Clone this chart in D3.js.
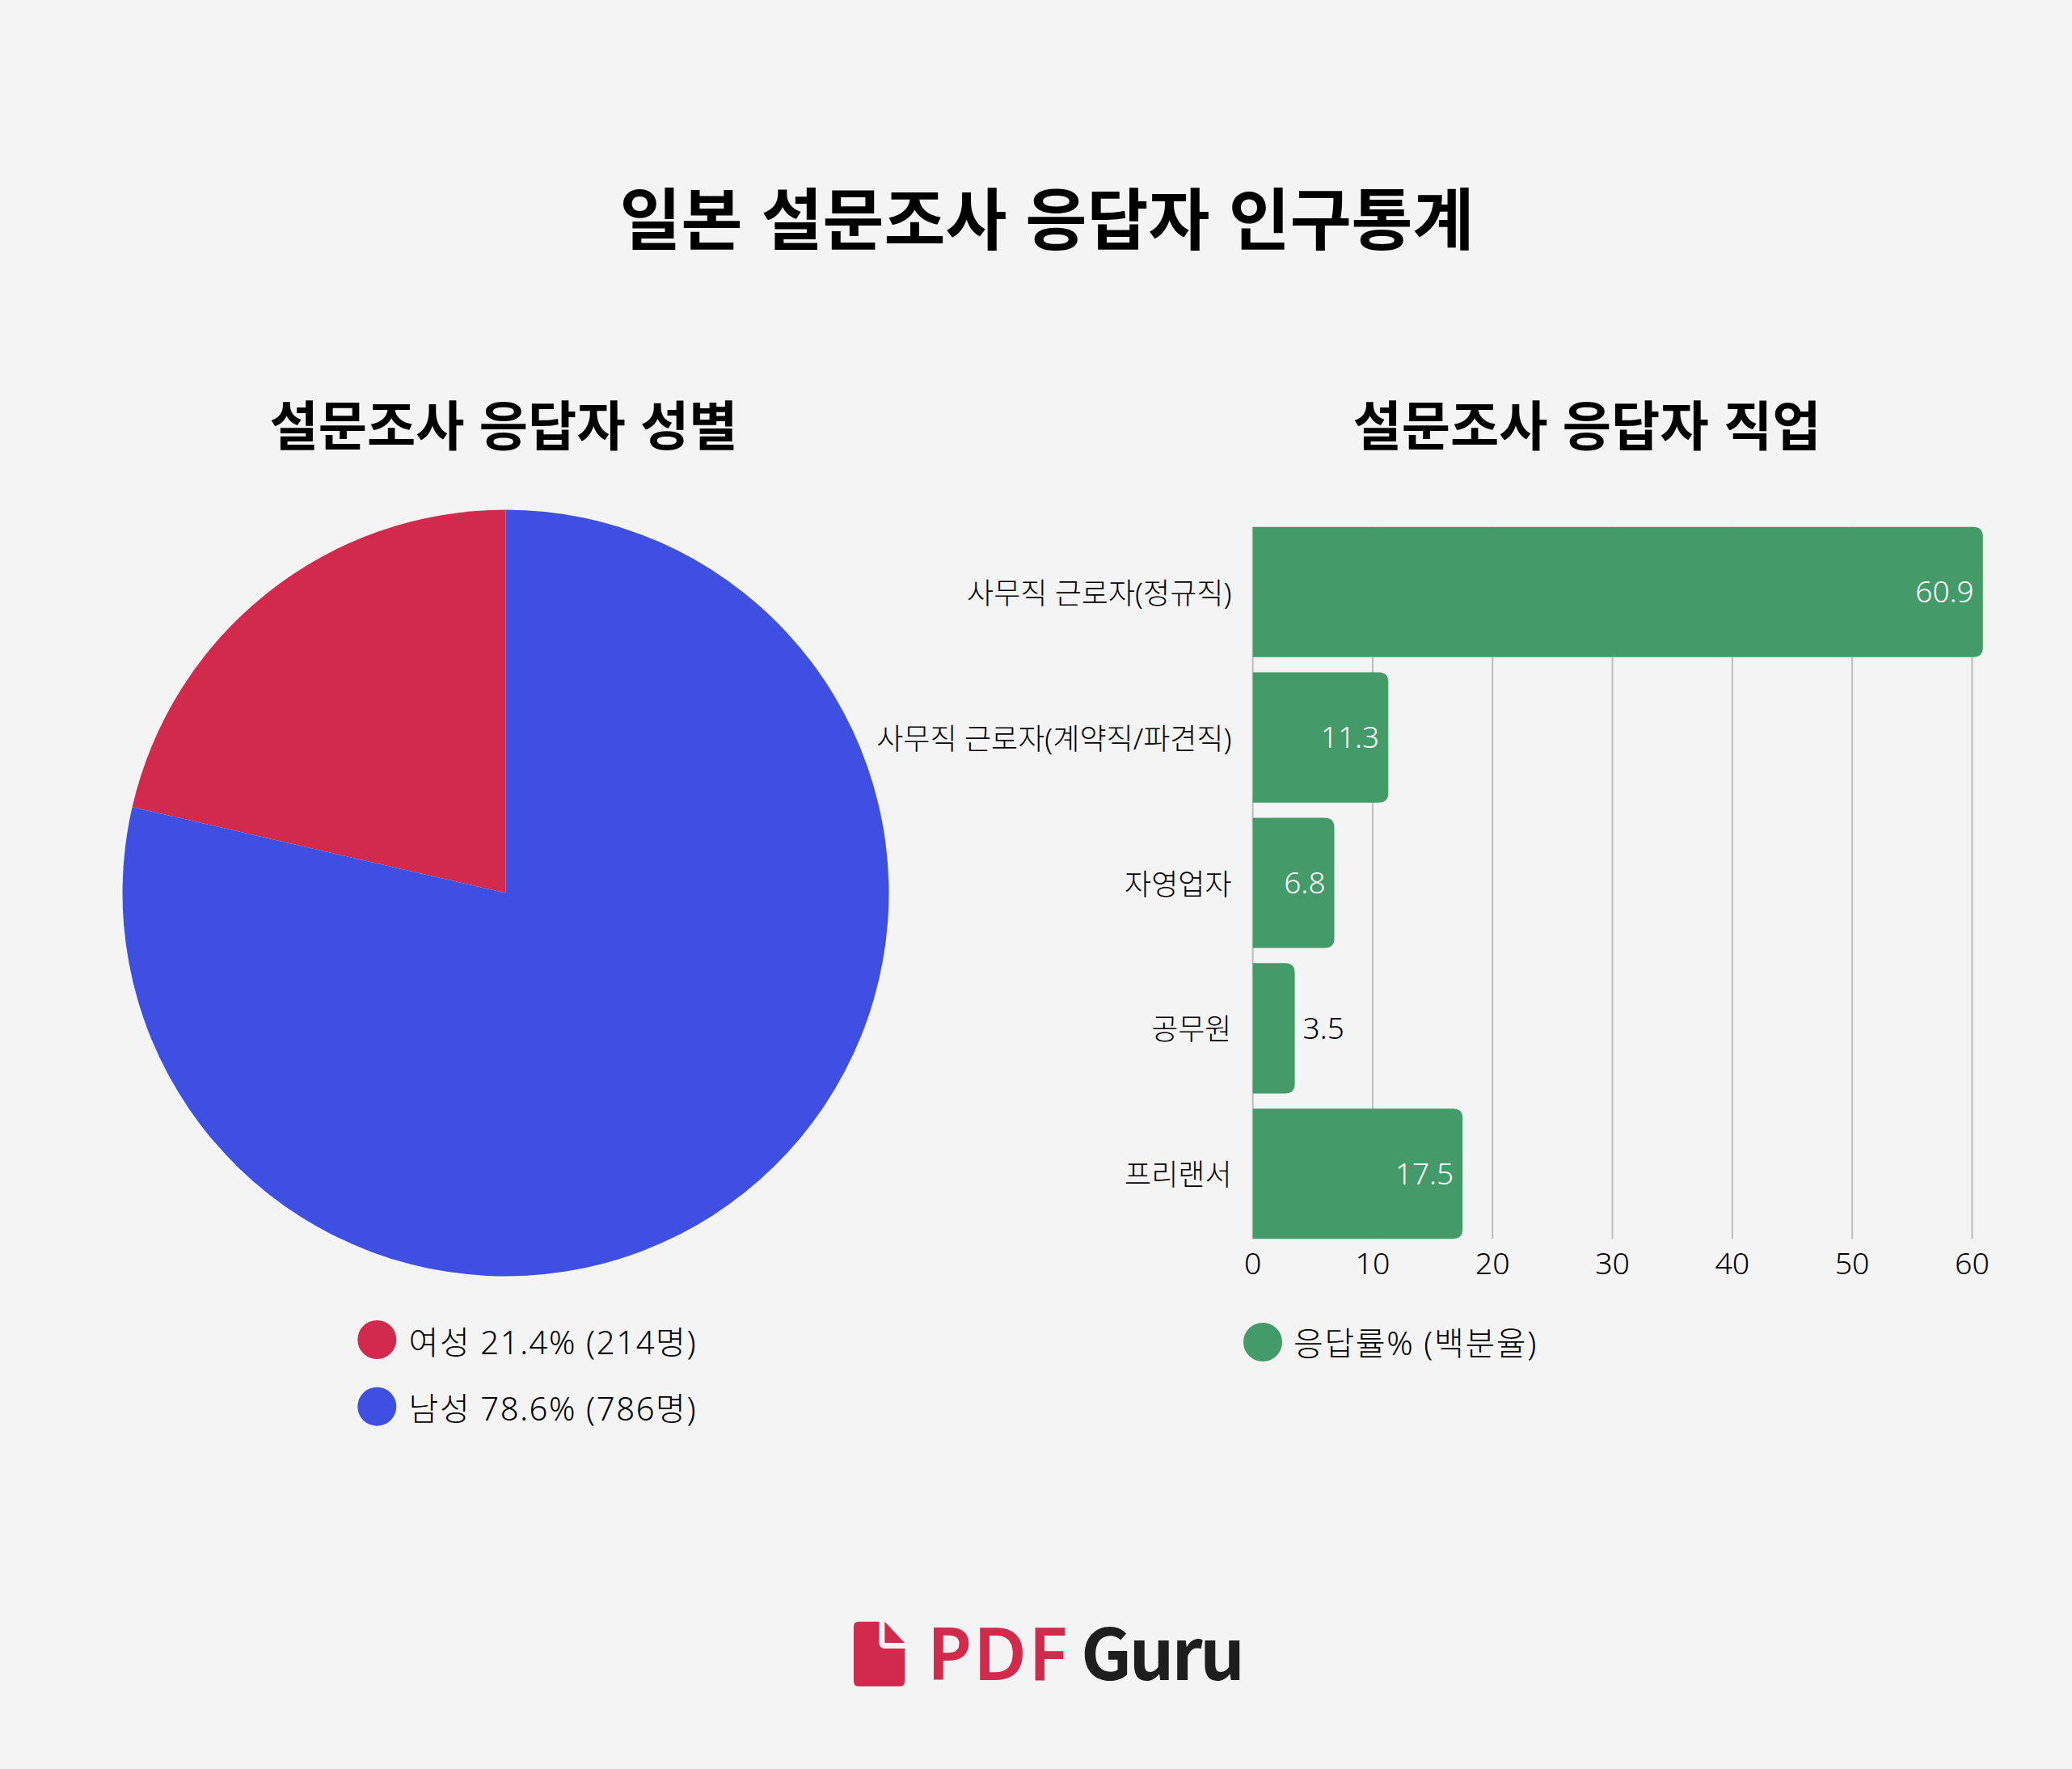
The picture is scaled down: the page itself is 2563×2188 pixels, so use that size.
<!DOCTYPE html>
<html lang="ko"><head><meta charset="utf-8">
<style>html,body{margin:0;padding:0;background:#f4f4f4}svg{display:block}
text{font-family:"Noto Sans CJK KR","Noto Sans",sans-serif}
.lt{font-family:"Noto Sans","Noto Sans CJK KR",sans-serif;font-weight:300}
</style>
<script src="https://cdn.jsdelivr.net/npm/d3@7/dist/d3.min.js"></script></head><body>
<script>
const mainTitle="일본 설문조사 응답자 인구통계";
const pieTitle="설문조사 응답자 성별";
const barTitle="설문조사 응답자 직업";
const genders=["여성 21.4% (214명)","남성 78.6% (786명)"];
const genderCounts=[214,786];
const genderColors=["#d22a4c","#3e4fe1"];
const jobs=["사무직 근로자(정규직)","사무직 근로자(계약직/파견직)","자영업자","공무원","프리랜서"];
const jobValues=[60.9,11.3,6.8,3.5,17.5];
const xTicks=[0,10,20,30,40,50,60];
const barLegend="응답률% (백분율)";
const barColor="#449a69";
const W=2563,H=2188;
const svg=d3.select("body").append("svg").attr("width",W).attr("height",H).attr("viewBox",`0 0 ${W} ${H}`);
svg.append("rect").attr("width",W).attr("height",H).attr("fill","#f4f4f4");
const T=(x,y,s,size,weight,anchor="middle",fill="#000",cls=null)=>svg.append("text").attr("x",x).attr("y",y).attr("font-size",size).attr("font-weight",weight).attr("text-anchor",anchor).attr("fill",fill).attr("class",cls).text(s);
T(1295,302,mainTitle,82.6,700);
T(623,551,pieTitle,65.5,700);
T(1963,551,barTitle,65.5,700);
// pie
const pie=d3.pie().sort(null).startAngle(-genderCounts[0]/d3.sum(genderCounts)*2*Math.PI).endAngle((1-genderCounts[0]/d3.sum(genderCounts))*2*Math.PI);
const arc=d3.arc().innerRadius(0).outerRadius(474);
svg.append("g").attr("transform","translate(625.5,1104.5)").selectAll("path").data(pie(genderCounts)).join("path").attr("d",arc).attr("fill",(d,i)=>genderColors[i]);
genders.forEach((s,i)=>{const y=1657+i*82.7;
 svg.append("circle").attr("cx",466.3).attr("cy",y).attr("r",24).attr("fill",genderColors[i]);
 T(505.5,y+17.5,s,40,300,"start","#000","lt").attr("letter-spacing",1.6);});
// bars
const x=d3.scaleLinear().domain([0,60]).range([1549.7,2439.4]);
const y=d3.scaleBand().domain(jobs).range([651.7,1532.3]).paddingInner(0.104);
const gx=svg.append("g").attr("transform","translate(0,1532.3)").call(d3.axisBottom(x).tickValues(xTicks).tickSize(0).tickPadding(17.4));
gx.select(".domain").remove();
gx.selectAll("text").attr("font-size",37.5).attr("font-weight",300).attr("class","lt").attr("fill","#000").attr("font-family",null).attr("dx",-0.5);
svg.append("g").selectAll("line").data(xTicks).join("line").attr("x1",d=>x(d)).attr("x2",d=>x(d)).attr("y1",651.7).attr("y2",1532.3).attr("stroke","#bebebe").attr("stroke-width",2);
const r=12;
svg.append("g").selectAll("path").data(jobs).join("path").attr("fill",barColor).attr("d",(d,i)=>{
 const x0=x(0),x1=x(jobValues[i]),t=y(d),b=t+y.bandwidth();
 return `M${x0},${t}H${x1-r}Q${x1},${t} ${x1},${t+r}V${b-r}Q${x1},${b} ${x1-r},${b}H${x0}Z`;});
const gy=svg.append("g").attr("transform","translate(1523.5,3)").call(d3.axisLeft(y).tickSize(0).tickPadding(0));
gy.select(".domain").remove();
gy.selectAll("text").attr("font-size",36).attr("font-weight",300).attr("class","lt").attr("fill","#000").attr("font-family",null);
jobs.forEach((d,i)=>{const v=jobValues[i],inside=v>5;
 T(inside?x(v)-11:x(v)+10,y(d)+y.bandwidth()/2+13,String(v),37,300,inside?"end":"start",inside?"#fff":"#000","lt");});
svg.append("circle").attr("cx",1562).attr("cy",1660).attr("r",24).attr("fill",barColor);
T(1600,1676,barLegend,40,300,"start","#000","lt").attr("letter-spacing",1.6);
// logo
svg.append("path").attr("fill","#d22a4c").attr("d","M1062,2005.7H1087.5V2032Q1087.5,2039 1094.5,2039H1119V2079.7Q1119,2085.7 1113,2085.7H1062Q1056,2085.7 1056,2079.7V2011.7Q1056,2005.7 1062,2005.7Z");
svg.append("path").attr("fill","#d22a4c").attr("d","M1094.4,2005.7L1119,2032H1094.4Z");
svg.append("text").attr("x",1147).attr("y",2077.7).attr("font-size",90).attr("font-weight",600).attr("letter-spacing",2).attr("fill","#d22a4c").style("font-family","'Noto Sans'").text("PDF");
svg.append("text").attr("x",1337).attr("y",2077.7).attr("font-size",88).attr("font-weight",700).attr("letter-spacing",-3.5).attr("fill","#1e1e1e").style("font-family","'Noto Sans CJK KR'").text("Guru");
</script></body></html>
